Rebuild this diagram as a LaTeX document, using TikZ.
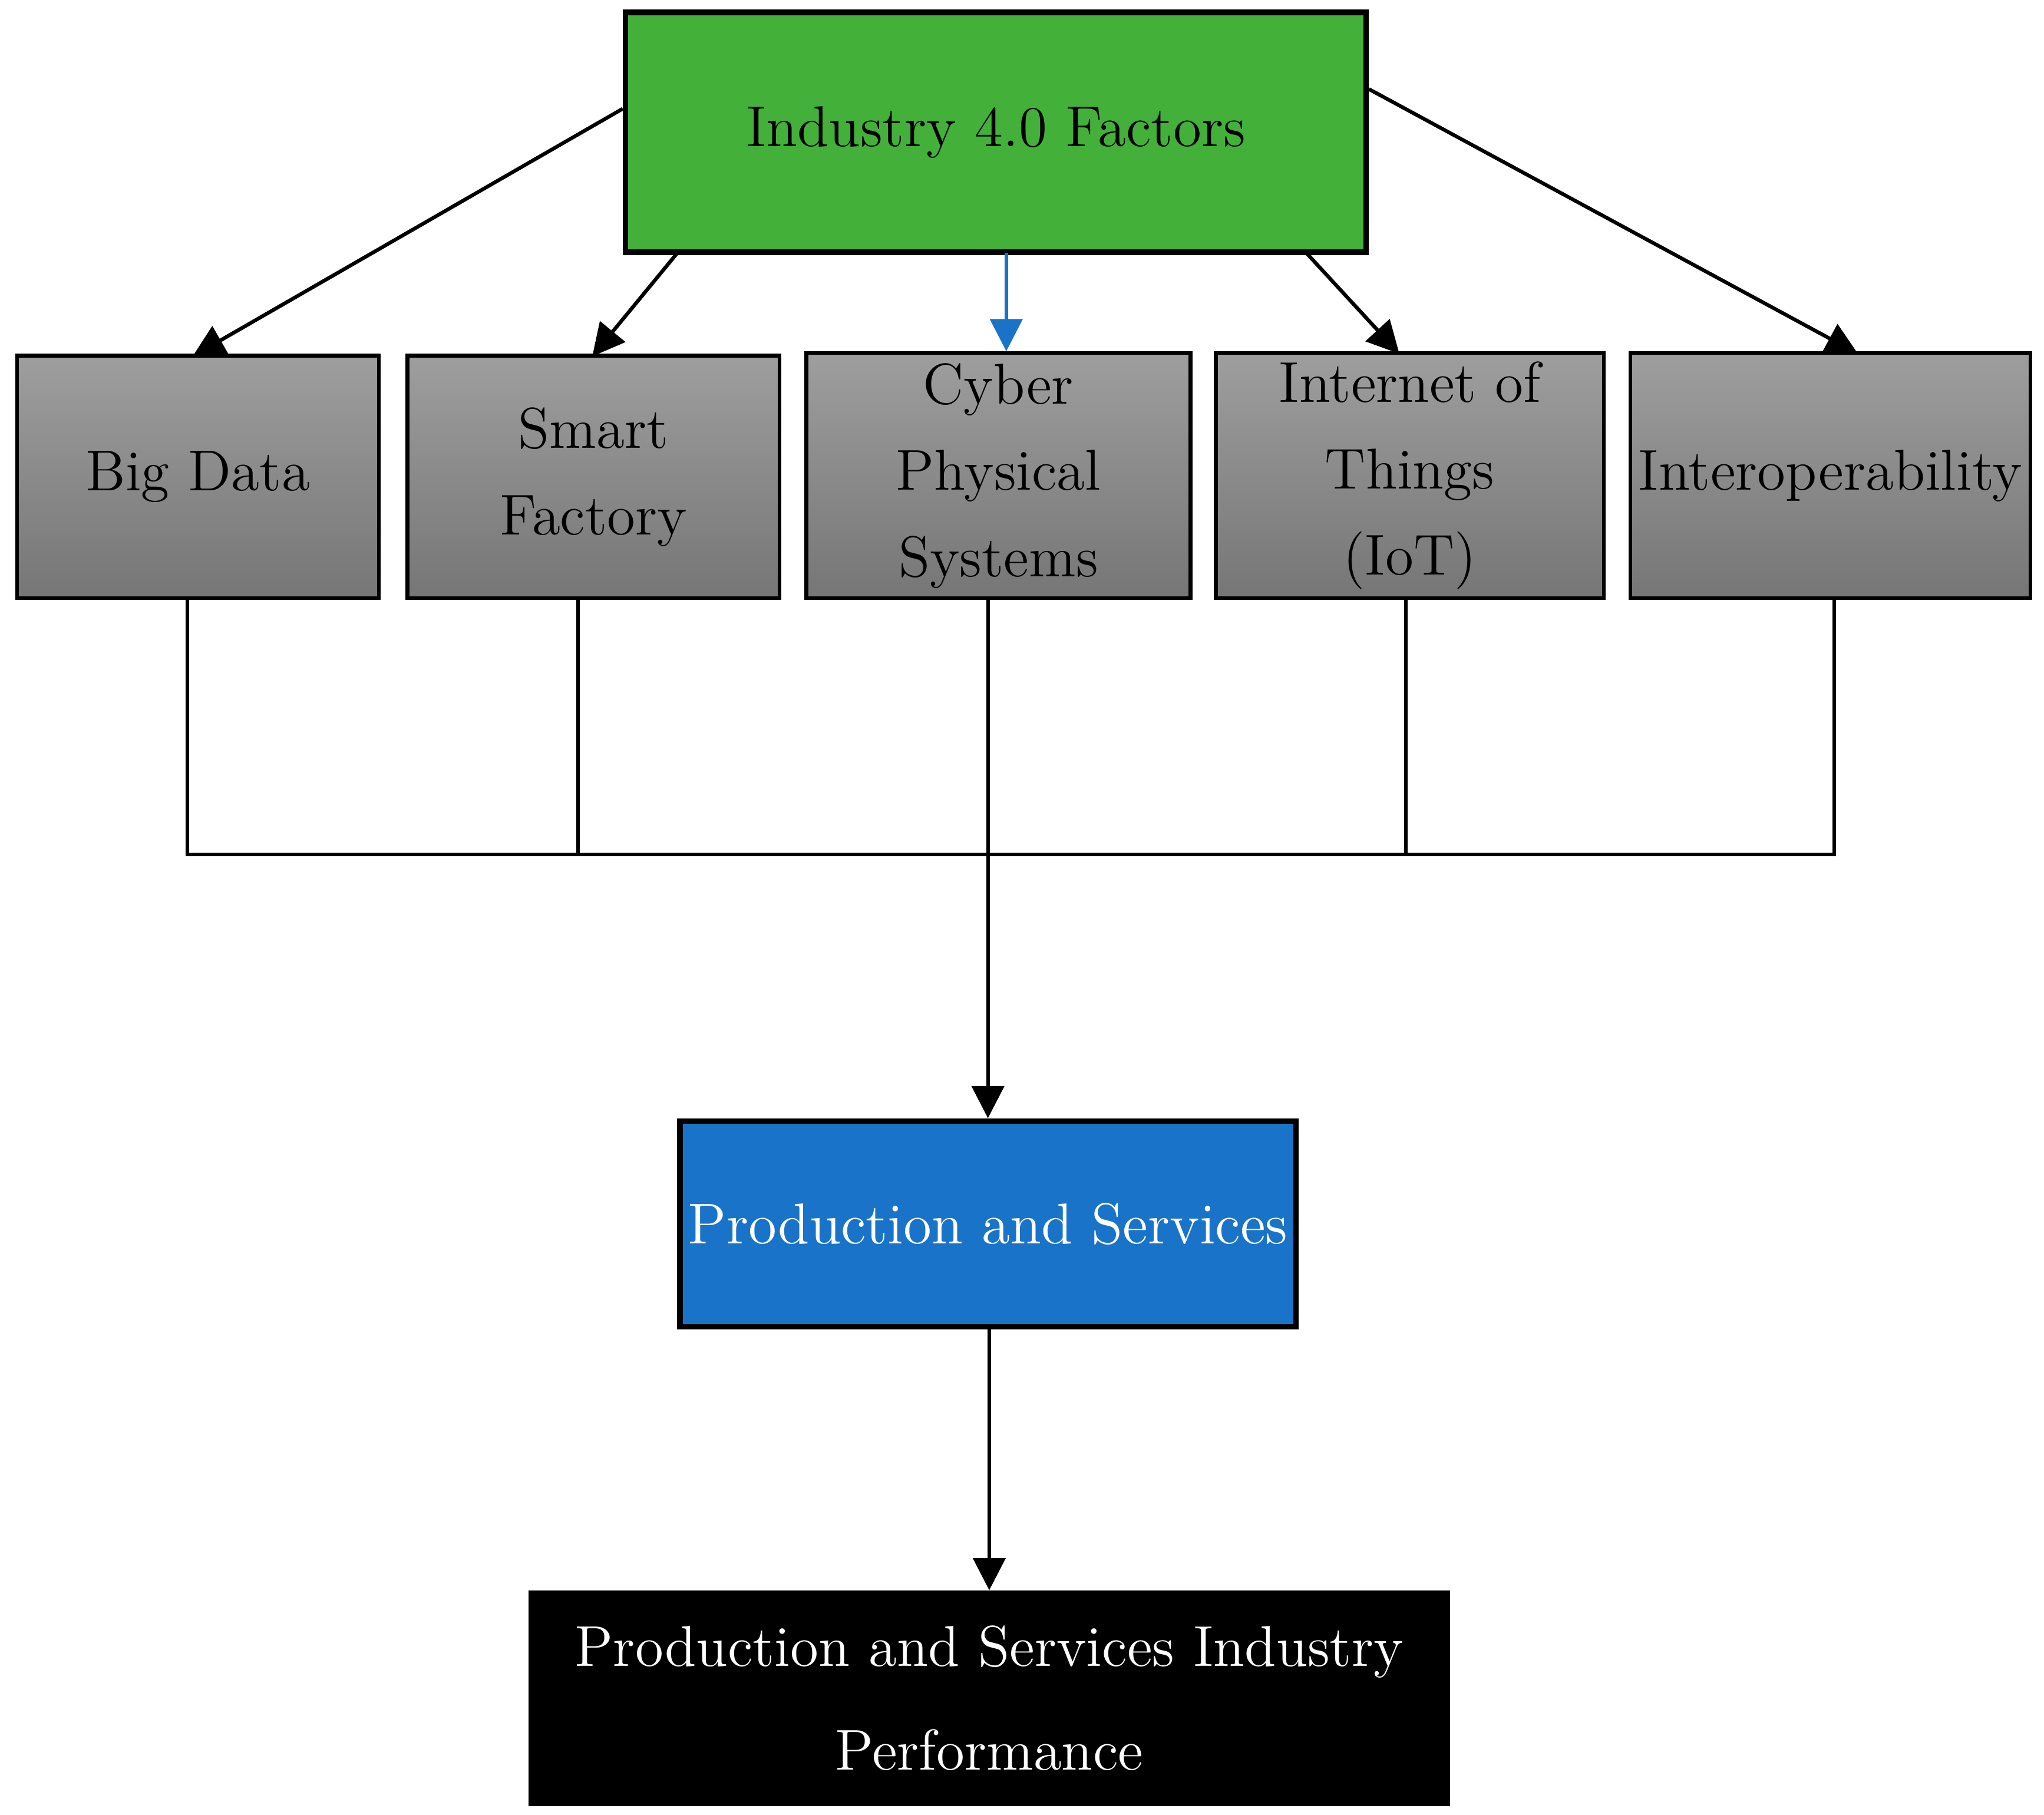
\documentclass[tikz,border=0pt]{standalone}
\usepackage{xcolor}
\usepackage{tikz}
\usetikzlibrary{positioning,shapes,arrows.meta}
\definecolor{factgreen}{RGB}{67,176,58}
\definecolor{prodblue}{RGB}{25,115,200}
\definecolor{boxtop}{RGB}{158,158,158}
\definecolor{boxbot}{RGB}{118,118,118}

\begin{document}
\begin{tikzpicture}[x=0.01cm,y=-0.01cm,
  box/.style={draw, thick, rectangle, align=center, inner sep=0pt, font=\fontsize{12.5}{15}\selectfont},
  factor/.style={box, top color=boxtop, bottom color=boxbot, minimum height=1.85cm},
  arr/.style={-{Triangle[length=7pt,width=7pt]}, thick}]
\useasboundingbox (0,0) rectangle (1560,1385);

\node[box, fill=factgreen, very thick, minimum width=5.65cm, minimum height=1.83cm] (ind) at (760,101) {Industry 4.0 Factors};

\node[factor, minimum width=2.76cm] (big) at (151,364) {Big Data};
\node[factor, minimum width=2.84cm] (smart) at (453,364) {Smart\\[0.3em]Factory};
\node[factor, minimum width=2.93cm, minimum height=1.87cm] (cps) at (762,363) {Cyber\\[0.3em]Physical\\[0.3em]Systems};
\node[factor, minimum width=2.96cm, minimum height=1.87cm] (iot) at (1076,363) {Internet of\\[0.3em]Things\\[0.3em](IoT)};
\node[factor, minimum width=3.05cm, minimum height=1.87cm] (inter) at (1397,363) {Interoperability};

\node[box, fill=prodblue, text=white, very thick, minimum width=4.7cm, minimum height=1.57cm] (prod) at (754,934) {Production and Services};
\node[box, fill=black, text=white, minimum width=7cm, minimum height=1.62cm] (perf) at (755,1296) {Production and Services Industry\\[0.6em]Performance};

% arrows from the top box
\draw[arr] (ind.west |- 0,83) -- (147,272);
\draw[arr] (517,193) -- (452,272);
\draw[arr, prodblue] (768,193) -- (cps.north -| 768,0);
\draw[arr] (997,193) -- (1068,270);
\draw[arr] (ind.east |- 0,68) -- (1418,270);

% bus
\coordinate (b1) at (143,652);
\coordinate (b2) at (441,652);
\coordinate (b4) at (1073,652);
\coordinate (b5) at (1400,652);
\draw[thick] (big.south -| b1) -- (b1) -- (b5) -- (inter.south -| b5);
\draw[thick] (smart.south -| b2) -- (b2);
\draw[thick] (iot.south -| b4) -- (b4);
\draw[arr] (cps.south -| prod.north) -- (prod.north);
\draw[arr] (prod.south -| perf.north) -- (perf.north);
\end{tikzpicture}
\end{document}
